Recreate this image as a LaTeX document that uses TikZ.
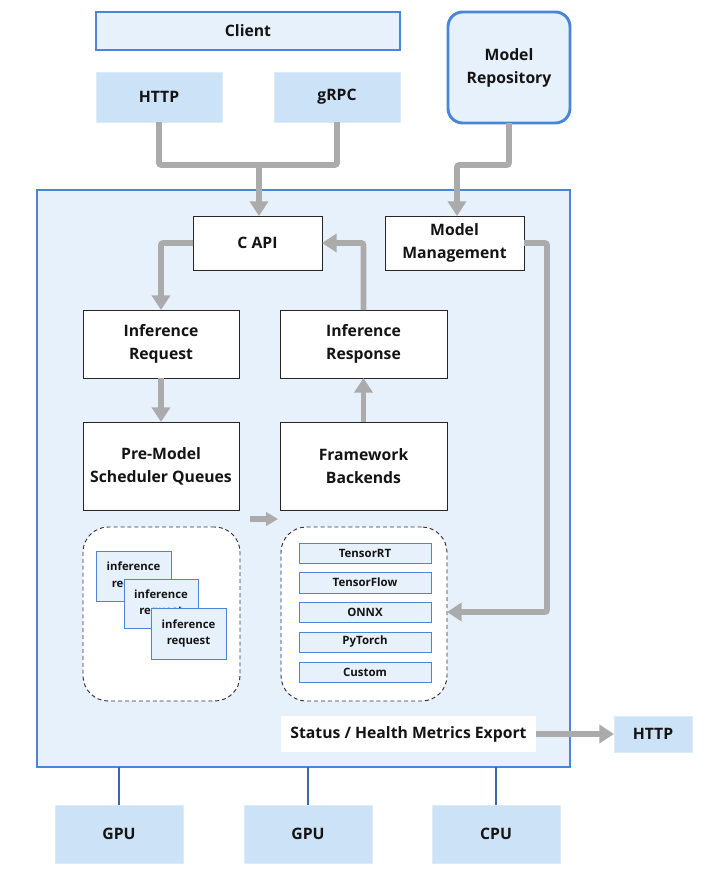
\documentclass[tikz,border=0pt]{standalone}
\usepackage{fontspec}
\setmainfont{Open Sans}
\usetikzlibrary{arrows.meta}
\definecolor{bgblue}{HTML}{E7F1FC}
\definecolor{edgeblue}{HTML}{4A86D8}
\definecolor{tagblue}{HTML}{CCE2F7}
\definecolor{flowgray}{HTML}{ABABAB}
\definecolor{linkblue}{HTML}{3B68A8}
\definecolor{txt}{HTML}{141414}
\newcommand\bx[7]{\node[#1, minimum width={(#5-#3)*0.75pt}, minimum height={(#6-#4)*0.75pt}] (#2) at ({(#3+#5)/2},{(#4+#6)/2}) {#7};}
\tikzset{
  base/.style={inner sep=0pt, outer sep=0pt, align=center, text=txt, font=\bfseries\fontsize{11.8}{17.2}\selectfont},
  client/.style={base, fill=bgblue, draw=edgeblue, line width=2.2pt},
  tag/.style={base, fill=tagblue, draw=tagblue!70!white, line width=0.5pt},
  repo/.style={base, fill=bgblue, draw=edgeblue, line width=2.2pt, rounded corners=11pt},
  mainbox/.style={inner sep=0pt, outer sep=0pt, fill=bgblue, draw=edgeblue, line width=1.6pt},
  wbox/.style={base, fill=white, draw=black!85, line width=0.6pt},
  dbox/.style={inner sep=0pt, outer sep=0pt, fill=white, draw=black!80, line width=0.7pt, dash pattern=on 3pt off 2.2pt, rounded corners=19pt},
  ibox/.style={base, fill=bgblue, draw=edgeblue, line width=0.7pt, font=\bfseries\fontsize{8.5}{12.6}\selectfont},
  bebox/.style={base, fill=bgblue, draw=edgeblue, line width=0.7pt, font=\bfseries\fontsize{8.6}{9}\selectfont},
  statbox/.style={base, fill=white, draw=none},
  flow/.style={draw=flowgray, line width=4.2pt, rounded corners=1.5pt},
  flowarr/.style={flow, -{Triangle[width=13.5pt,length=11pt]}},
  link/.style={draw=linkblue, line width=2pt}
}
\begin{document}
\begin{tikzpicture}[x=0.75pt,y=-0.75pt]
\useasboundingbox (0,0) rectangle (708,874);
% main container
\bx{mainbox}{main}{37}{190}{570}{767}{}
% top
\bx{client}{client}{96}{12}{400}{50}{Client}
\bx{tag}{http}{96}{72}{222}{122}{HTTP}
\bx{tag}{grpc}{274}{72}{400}{122}{gRPC}
\bx{repo}{repo}{448}{12}{570}{123}{Model\\Repository}
% inner boxes
\bx{wbox}{capi}{193}{216}{322}{270}{C API}
\bx{wbox}{mm}{385}{216}{524}{270}{Model\\Management}
\bx{wbox}{ireq}{83}{310}{239}{378}{Inference\\Request}
\bx{wbox}{iresp}{280}{310}{447}{378}{Inference\\Response}
\bx{wbox}{pre}{83}{422}{239}{510}{Pre-Model\\Scheduler Queues}
\bx{wbox}{fb}{280}{422}{447}{510}{Framework\\Backends}
% dashed groups
\bx{dbox}{ldash}{83}{527}{240}{701}{}
\bx{dbox}{rdash}{281}{527}{447}{701}{}
\bx{ibox}{r1}{96}{551}{171}{601}{inference\\request}
\bx{ibox}{r2}{124}{579}{198}{628}{inference\\request}
\bx{ibox}{r3}{151}{608}{226}{659}{inference\\request}
\bx{bebox}{b1}{299}{543}{431}{563}{TensorRT}
\bx{bebox}{b2}{299}{572}{431}{593}{TensorFlow}
\bx{bebox}{b3}{299}{602}{431}{622}{ONNX}
\bx{bebox}{b4}{299}{632}{431}{652}{PyTorch}
\bx{bebox}{b5}{299}{662}{431}{682}{Custom}
% status
\bx{statbox}{status}{281}{716}{536}{752}{Status / Health Metrics Export}
\bx{tag}{http2}{614}{716}{692}{752}{HTTP}
% hardware
\bx{tag}{gpu1}{55}{805}{183}{863}{GPU}
\bx{tag}{gpu2}{244}{805}{372}{863}{GPU}
\bx{tag}{cpu}{432}{805}{560}{863}{CPU}
% coordinates
\coordinate (j) at (259,165);
\coordinate (k1) at (509,165);
\coordinate (k2) at (457,165);
\coordinate (mmturn) at (547,612);
\coordinate (qa) at (250,519);
\coordinate (qb) at (278,519);
% flows
\draw[flow] (http.south) |- (j);
\draw[flow] (grpc.south) |- (j);
\draw[flowarr] (j) -- (j |- capi.north);
\draw[flowarr] (repo.south -| k1) -- (k1) -- (k2) -- (k2 |- mm.north);
\draw[flowarr] (capi.west) -| (ireq.north);
\draw[flowarr] (ireq.south) -- (pre.north);
\draw[flowarr] (fb.north) -- (iresp.south);
\draw[flowarr] (iresp.north) |- (capi.east);
\draw[flowarr] (mm.east) -| (mmturn) -- (mmturn -| rdash.east);
\draw[draw=flowgray, line width=4.2pt, -{Triangle[width=10pt,length=9pt]}] (qa) -- (qb);
\draw[flowarr] (status.east) -- (http2.west);
% hardware links
\draw[link] (gpu1.north) -- (gpu1.north |- main.south);
\draw[link] (gpu2.north) -- (gpu2.north |- main.south);
\draw[link] (cpu.north) -- (cpu.north |- main.south);
\end{tikzpicture}
\end{document}
